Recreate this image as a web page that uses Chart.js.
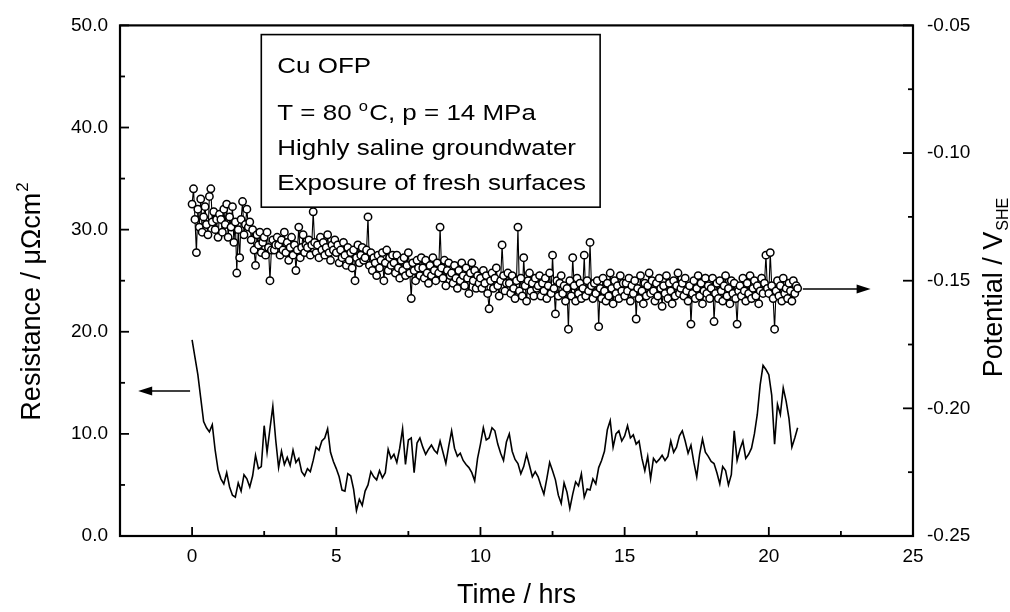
<!DOCTYPE html>
<html>
<head>
<meta charset="utf-8">
<script src="https://cdn.jsdelivr.net/npm/chart.js@4.4.0/dist/chart.umd.min.js"></script>
<style>
  html, body { margin: 0; padding: 0; background: #fff; }
  #wrap { width: 1010px; height: 612px; }
</style>
</head>
<body>
<div id="wrap"><canvas id="cuChart" width="1010" height="612"></canvas></div>
<script>
// axis ticks
var xTicks = [0, 5, 10, 15, 20, 25];
var xMinor = [2.5, 7.5, 12.5, 17.5, 22.5];
var resTicks = [0, 10, 20, 30, 40, 50];
var resMinor = [5, 15, 25, 35, 45];
var potTicks = [-0.25, -0.20, -0.15, -0.10, -0.05];
var potMinor = [-0.225, -0.175, -0.125, -0.075];

// resistance (uOhm cm2), one reading every 0.1 h starting at t = 0
var resStep = 0.1;
var resistance = [
    19.2, 17.5, 15.8, 13.5, 11.2, 10.6, 10.2, 10.9, 8.4, 6.5,
    5.6, 5.1, 6.2, 4.8, 4.0, 3.8, 5.2, 4.4, 6.0, 5.6,
    4.8, 5.9, 7.9, 6.6, 6.8, 10.8, 8.2, 10.5, 12.7, 9.4,
    6.7, 8.3, 7.0, 7.7, 6.9, 8.4, 7.2, 7.6, 6.3, 5.9,
    6.6, 6.3, 7.4, 8.7, 8.4, 9.3, 9.6, 10.5, 8.2, 7.3,
    6.6, 5.8, 4.5, 4.4, 6.1, 5.9, 4.6, 2.5, 3.6, 3.0,
    4.4, 5.0, 6.3, 5.8, 5.5, 6.4, 5.7, 6.2, 8.5, 7.6,
    8.0, 7.2, 8.6, 10.5, 7.0, 9.4, 9.6, 6.2, 9.1, 9.6,
    8.7, 8.0, 8.5, 8.9, 8.4, 8.1, 9.3, 8.2, 7.1, 8.8,
    10.3, 8.6, 7.8, 8.1, 7.4, 7.0, 6.7, 6.2, 5.4, 7.6,
    9.0, 10.6, 9.4, 9.6, 10.6, 10.3, 9.0, 8.1, 7.4, 9.2,
    10.0, 8.3, 7.5, 7.1, 6.1, 6.8, 8.0, 6.9, 5.8, 6.3,
    5.8, 4.9, 4.1, 5.6, 7.2, 6.4, 5.5, 4.0, 3.2, 5.2,
    4.3, 2.7, 4.1, 5.3, 4.9, 6.1, 3.8, 4.6, 4.5, 5.6,
    5.1, 6.7, 7.4, 8.3, 10.4, 11.3, 8.7, 10.0, 10.3, 9.3,
    9.8, 10.8, 9.6, 9.9, 9.0, 9.3, 7.6, 6.4, 7.8, 5.6,
    7.6, 7.2, 7.5, 7.9, 7.4, 7.8, 9.3, 8.2, 8.7, 9.8,
    10.3, 9.3, 8.1, 8.9, 7.2, 5.8, 8.0, 9.5, 8.2, 7.8,
    7.3, 7.1, 6.2, 5.1, 6.8, 6.4, 5.0, 6.0, 10.3, 7.4,
    8.5, 9.3, 7.6, 8.0, 8.6, 10.0, 11.9, 14.8, 16.7, 16.3,
    15.8, 13.8, 9.0, 12.9, 11.9, 14.5, 13.2, 11.5, 8.7, 9.6,
    10.6
];

// potential (V vs SHE), one reading every 0.05 h starting at t = 0
var potStep = 0.05;
var potential = [
    -0.120, -0.114, -0.126, -0.139, -0.122, -0.129, -0.118, -0.131, -0.125, -0.121, -0.128, -0.132, -0.117, -0.114, -0.127, -0.123, -0.130, -0.126, -0.133, -0.124,
    -0.126, -0.131, -0.122, -0.128, -0.120, -0.133, -0.125, -0.129, -0.121, -0.135, -0.127, -0.147, -0.130, -0.141, -0.126, -0.119, -0.132, -0.128, -0.122, -0.129,
    -0.127, -0.134, -0.130, -0.138, -0.144, -0.132, -0.136, -0.131, -0.139, -0.135, -0.133, -0.140, -0.131, -0.137, -0.150, -0.138, -0.134, -0.138, -0.136, -0.133,
    -0.136, -0.140, -0.134, -0.138, -0.131, -0.139, -0.135, -0.142, -0.137, -0.133, -0.140, -0.136, -0.146, -0.138, -0.129, -0.141, -0.137, -0.132, -0.139, -0.136,
    -0.137, -0.134, -0.140, -0.136, -0.123, -0.135, -0.139, -0.136, -0.141, -0.133, -0.138, -0.135, -0.140, -0.137, -0.132, -0.139, -0.142, -0.136, -0.138, -0.134,
    -0.139, -0.136, -0.143, -0.138, -0.141, -0.135, -0.140, -0.144, -0.137, -0.142, -0.139, -0.145, -0.138, -0.150, -0.141, -0.136, -0.143, -0.140, -0.137, -0.142,
    -0.141, -0.138, -0.125, -0.144, -0.139, -0.146, -0.141, -0.143, -0.148, -0.140, -0.145, -0.142, -0.139, -0.150, -0.143, -0.138, -0.146, -0.141, -0.144, -0.140,
    -0.143, -0.147, -0.140, -0.145, -0.149, -0.142, -0.146, -0.141, -0.148, -0.144, -0.139, -0.147, -0.157, -0.143, -0.146, -0.150, -0.142, -0.145, -0.148, -0.141,
    -0.145, -0.149, -0.142, -0.147, -0.151, -0.144, -0.148, -0.141, -0.146, -0.150, -0.143, -0.147, -0.129, -0.145, -0.149, -0.142, -0.152, -0.146, -0.143, -0.148,
    -0.147, -0.151, -0.144, -0.149, -0.153, -0.146, -0.150, -0.143, -0.148, -0.152, -0.145, -0.149, -0.155, -0.147, -0.143, -0.150, -0.146, -0.153, -0.148, -0.151,
    -0.149, -0.153, -0.146, -0.151, -0.148, -0.155, -0.161, -0.150, -0.147, -0.153, -0.149, -0.145, -0.152, -0.156, -0.150, -0.136, -0.148, -0.154, -0.151, -0.147,
    -0.151, -0.155, -0.148, -0.153, -0.157, -0.150, -0.129, -0.154, -0.149, -0.156, -0.141, -0.152, -0.158, -0.150, -0.147, -0.154, -0.151, -0.156, -0.149, -0.153,
    -0.152, -0.148, -0.156, -0.151, -0.154, -0.149, -0.157, -0.152, -0.147, -0.155, -0.140, -0.153, -0.163, -0.150, -0.156, -0.151, -0.148, -0.155, -0.152, -0.158,
    -0.153, -0.169, -0.150, -0.156, -0.141, -0.152, -0.158, -0.149, -0.155, -0.151, -0.157, -0.153, -0.140, -0.156, -0.150, -0.154, -0.135, -0.152, -0.157, -0.151,
    -0.155, -0.150, -0.168, -0.153, -0.157, -0.149, -0.154, -0.158, -0.151, -0.156, -0.147, -0.153, -0.159, -0.150, -0.155, -0.152, -0.157, -0.148, -0.154, -0.151,
    -0.156, -0.151, -0.154, -0.149, -0.158, -0.152, -0.155, -0.150, -0.165, -0.153, -0.157, -0.148, -0.154, -0.159, -0.151, -0.156, -0.152, -0.147, -0.155, -0.150,
    -0.154, -0.158, -0.151, -0.156, -0.149, -0.153, -0.160, -0.152, -0.155, -0.148, -0.157, -0.151, -0.154, -0.159, -0.150, -0.156, -0.152, -0.147, -0.155, -0.153,
    -0.151, -0.156, -0.149, -0.154, -0.158, -0.152, -0.167, -0.155, -0.150, -0.157, -0.153, -0.148, -0.156, -0.151, -0.159, -0.154, -0.149, -0.155, -0.152, -0.157,
    -0.153, -0.149, -0.166, -0.155, -0.151, -0.157, -0.150, -0.154, -0.158, -0.152, -0.148, -0.156, -0.153, -0.159, -0.150, -0.155, -0.151, -0.157, -0.167, -0.154,
    -0.152, -0.156, -0.149, -0.154, -0.158, -0.151, -0.155, -0.148, -0.157, -0.153, -0.150, -0.156, -0.152, -0.159, -0.154, -0.149, -0.155, -0.151, -0.140, -0.153,
    -0.155, -0.139, -0.152, -0.157, -0.169, -0.154, -0.150, -0.156, -0.152, -0.158, -0.149, -0.155, -0.153, -0.157, -0.151, -0.154, -0.158, -0.150, -0.155, -0.152,
    -0.153
];

var noteLines = ["Cu OFP", "T = 80 °C, p = 14 MPa", "Highly saline groundwater", "Exposure of fresh surfaces"];

var FONT = "'Liberation Sans', Arial, Helvetica, sans-serif";

function toPoints(values, step) {
    return values.map(function (v, i) {
        return { x: Math.round(i * step * 100) / 100, y: v };
    });
}

function fixTicks(list) {
    return function (scale) {
        scale.ticks = list.map(function (v) { return { value: v }; });
    };
}

// frame, inward ticks, note box, arrows and axis titles
var decor = {
    id: 'decor',
    afterDraw: function (chart) {
        var ctx = chart.ctx, a = chart.chartArea;
        var sx = chart.scales.x, sy = chart.scales.y, sp = chart.scales.y1;
        ctx.save();
        ctx.strokeStyle = '#000';
        ctx.fillStyle = '#000';

        function seg(x1, y1, x2, y2) {
            ctx.beginPath();
            ctx.moveTo(x1, y1);
            ctx.lineTo(x2, y2);
            ctx.stroke();
        }

        ctx.lineWidth = 2.2;
        ctx.strokeRect(a.left, a.top, a.right - a.left, a.bottom - a.top);

        ctx.lineWidth = 1.8;
        xTicks.forEach(function (v) { var p = sx.getPixelForValue(v); seg(p, a.bottom, p, a.bottom - 9); });
        xMinor.forEach(function (v) { var p = sx.getPixelForValue(v); seg(p, a.bottom, p, a.bottom - 5); });
        resTicks.forEach(function (v) { var p = sy.getPixelForValue(v); seg(a.left, p, a.left + 9, p); });
        resMinor.forEach(function (v) { var p = sy.getPixelForValue(v); seg(a.left, p, a.left + 5, p); });
        potTicks.forEach(function (v) { var p = sp.getPixelForValue(v); seg(a.right, p, a.right - 10, p); });
        potMinor.forEach(function (v) { var p = sp.getPixelForValue(v); seg(a.right, p, a.right - 5, p); });

        // note box
        var bx0 = sx.getPixelForValue(2.4), bx1 = sx.getPixelForValue(14.15);
        var by0 = sy.getPixelForValue(49.1), by1 = sy.getPixelForValue(32.2);
        ctx.fillStyle = '#fff';
        ctx.fillRect(bx0, by0, bx1 - bx0, by1 - by0);
        ctx.fillStyle = '#000';
        ctx.lineWidth = 1.6;
        ctx.strokeRect(bx0, by0, bx1 - bx0, by1 - by0);

        // the scanned lettering is a little wider than Arial
        var stretch = 1.18;
        ctx.save();
        ctx.translate(bx0 + 16, by0);
        ctx.scale(stretch, 1);
        ctx.font = '22px ' + FONT;
        ctx.textAlign = 'left';
        ctx.textBaseline = 'alphabetic';
        var base = [38, 85, 120, 155];
        ctx.fillText(noteLines[0], 0, base[0]);
        // "°" drawn as a raised small o
        var parts = noteLines[1].split('°');
        ctx.fillText(parts[0], 0, base[1]);
        var w = ctx.measureText(parts[0]).width;
        ctx.font = '14px ' + FONT;
        ctx.fillText('o', w, base[1] - 9);
        var wo = ctx.measureText('o').width;
        ctx.font = '22px ' + FONT;
        ctx.fillText(parts[1], w + wo + 1, base[1]);
        ctx.fillText(noteLines[2], 0, base[2]);
        ctx.fillText(noteLines[3], 0, base[3]);
        ctx.restore();

        // arrows pointing at each curve's axis
        function arrow(x1, x2, y) {
            var dir = x2 > x1 ? 1 : -1;
            ctx.lineWidth = 1.5;
            seg(x1, y, x2 - dir * 10, y);
            ctx.beginPath();
            ctx.moveTo(x2, y);
            ctx.lineTo(x2 - dir * 14, y - 4.5);
            ctx.lineTo(x2 - dir * 14, y + 4.5);
            ctx.closePath();
            ctx.fill();
        }
        var ly = sy.getPixelForValue(14.2);
        arrow(sx.getPixelForValue(-0.07), sx.getPixelForValue(-1.87), ly);
        var ry = sp.getPixelForValue(-0.1533);
        arrow(sx.getPixelForValue(21.18), sx.getPixelForValue(23.53), ry);

        // axis titles
        ctx.font = '27px ' + FONT;
        ctx.textAlign = 'center';
        ctx.fillText('Time / hrs', (a.left + a.right) / 2, 603);

        ctx.textAlign = 'left';
        ctx.save();
        ctx.translate(40, 302);
        ctx.rotate(-Math.PI / 2);
        var main = 'Resistance / \u03bc\u03a9cm';
        var mw = ctx.measureText(main).width;
        ctx.font = '17px ' + FONT;
        var sw = ctx.measureText('2').width;
        var start = -(mw + sw) / 2;
        ctx.font = '27px ' + FONT;
        ctx.fillText(main, start, 0);
        ctx.font = '17px ' + FONT;
        ctx.fillText('2', start + mw + 1, -12);
        ctx.restore();

        ctx.save();
        ctx.translate(1002, 288);
        ctx.rotate(-Math.PI / 2);
        ctx.font = '27px ' + FONT;
        var pm = 'Potential / V';
        var pw = ctx.measureText(pm).width;
        ctx.font = '16px ' + FONT;
        var subw = ctx.measureText('SHE').width;
        var ps = -(pw + subw) / 2;
        ctx.font = '27px ' + FONT;
        ctx.fillText(pm, ps, 0);
        ctx.font = '16px ' + FONT;
        ctx.fillText('SHE', ps + pw + 1, 6);
        ctx.restore();

        ctx.restore();
    }
};

var tickFont = { family: FONT, size: 19 };

var ctx = document.getElementById('cuChart').getContext('2d');
var cuChart = new Chart(ctx, {
    type: 'scatter',
    data: {
        datasets: [{
            label: 'Resistance',
            data: toPoints(resistance, resStep),
            yAxisID: 'y',
            showLine: true,
            borderColor: '#000',
            borderWidth: 1.6,
            pointRadius: 0,
            tension: 0
        }, {
            label: 'Potential',
            data: toPoints(potential, potStep),
            yAxisID: 'y1',
            showLine: true,
            borderColor: '#000',
            borderWidth: 1.1,
            pointRadius: 3.7,
            pointBorderWidth: 1.5,
            pointBorderColor: '#000',
            pointBackgroundColor: '#fff',
            tension: 0
        }]
    },
    options: {
        responsive: false,
        animation: false,
        devicePixelRatio: 1,
        layout: { padding: { top: 21, left: 0, right: 0, bottom: 0 } },
        plugins: {
            legend: { display: false },
            tooltip: { enabled: false }
        },
        scales: {
            x: {
                type: 'linear',
                position: 'bottom',
                min: -2.5,
                max: 25,
                grid: { display: false, drawTicks: false },
                border: { display: false },
                afterBuildTicks: fixTicks(xTicks),
                afterFit: function (s) { s.height = 76; },
                ticks: {
                    autoSkip: false,
                    maxRotation: 0,
                    padding: 9,
                    color: '#000',
                    font: tickFont,
                    callback: function (v) { return String(v); }
                }
            },
            y: {
                type: 'linear',
                position: 'left',
                min: 0,
                max: 50,
                grid: { display: false, drawTicks: false },
                border: { display: false },
                afterBuildTicks: fixTicks(resTicks),
                afterFit: function (s) { s.width = 120; },
                ticks: {
                    padding: 12,
                    color: '#000',
                    font: tickFont,
                    callback: function (v) { return Number(v).toFixed(1); }
                }
            },
            y1: {
                type: 'linear',
                position: 'right',
                min: -0.25,
                max: -0.05,
                grid: { display: false, drawTicks: false },
                border: { display: false },
                afterBuildTicks: fixTicks(potTicks),
                afterFit: function (s) { s.width = 97; },
                ticks: {
                    padding: 14,
                    color: '#000',
                    font: tickFont,
                    callback: function (v) { return Number(v).toFixed(2); }
                }
            }
        }
    },
    plugins: [decor]
});
</script>
</body>
</html>
